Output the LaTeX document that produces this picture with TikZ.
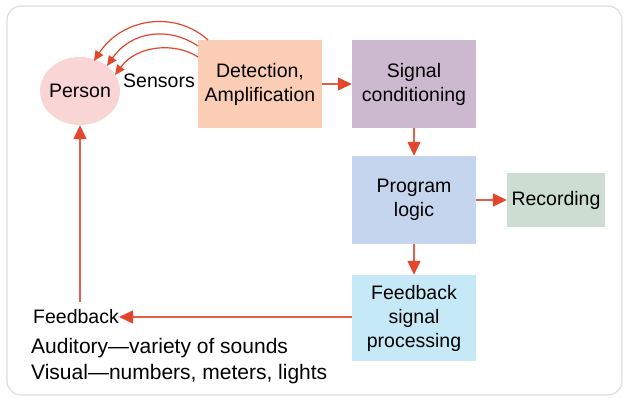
\documentclass[tikz,border=0pt]{standalone}
\usepackage{fontspec}
\setmainfont{Liberation Sans}
\usetikzlibrary{arrows.meta,shapes.geometric}
\definecolor{arr}{HTML}{E2472C}
\definecolor{arrline}{HTML}{E4604A}
\definecolor{personc}{HTML}{F9D5D5}
\definecolor{detc}{HTML}{FACDB4}
\definecolor{sigc}{HTML}{CDB9CF}
\definecolor{progc}{HTML}{C6D5EE}
\definecolor{recc}{HTML}{CCDDD1}
\definecolor{fbc}{HTML}{C6E9F8}
\definecolor{framec}{HTML}{DDDDDD}
\begin{document}
\begin{tikzpicture}[x=1pt,y=-1pt,
  lbl/.style={font=\fontsize{19.5}{24}\selectfont, text=black, align=center, inner sep=0pt},
  boxc/.style={lbl, minimum width=124pt, minimum height=88pt},
  big/.style={draw=arrline, line width=1.4pt, -{Triangle[length=14pt,width=13pt,color=arr]}},
  small/.style={draw=arr, line width=1.2pt, -{Triangle[length=10pt,width=9pt,color=arr]}}]
\useasboundingbox (0,0) rectangle (623,398);
\draw[framec, line width=1.2pt, rounded corners=14pt] (7,6) rectangle (622,395);
\node[lbl, ellipse, fill=personc, minimum width=80pt, minimum height=68pt, inner sep=-8pt] (person) at (80,91) {Person};
\node[boxc, fill=detc] (det) at (260,84) {Detection,\\Amplification};
\node[boxc, fill=sigc] (sig) at (414,84) {Signal\\conditioning};
\node[boxc, fill=progc] (prog) at (414,200) {Program\\logic};
\node[lbl, fill=recc, minimum width=98pt, minimum height=53pt] (rec) at (556,200) {Recording};
\node[boxc, fill=fbc, minimum height=86pt] (fbp) at (414,318) {Feedback\\signal\\processing};
\node[lbl, anchor=east] (fb) at (119,317) {Feedback};
\node[lbl, anchor=west, align=left, font=\fontsize{21}{26}\selectfont] (mod) at (31,361) {Auditory—variety of sounds\\Visual—numbers, meters, lights};
\node[lbl] (sens) at (159,81) {Sensors};
% sensor curves
\coordinate (s1) at (208,40);
\coordinate (s2) at (198,46);
\coordinate (s3) at (198,57);
\coordinate (e1) at (94,61);
\coordinate (e2) at (107,66);
\coordinate (e3) at (115,75);
\draw[small] (s1) .. controls (175,10) and (122,18) .. (e1);
\draw[small] (s2) .. controls (170,27) and (132,30) .. (e2);
\draw[small] (s3) .. controls (175,42) and (137,45) .. (e3);
% flow
\draw[big] (det.east) -- (sig.west);
\draw[big] (sig.south) -- (prog.north);
\draw[big] (prog.east) -- (rec.west);
\draw[big] (prog.south) -- (fbp.north);
\draw[big] (fbp.west |- fb.east) -- (fb.east);
\draw[big] (80,302) -- (person.south);
\end{tikzpicture}
\end{document}
